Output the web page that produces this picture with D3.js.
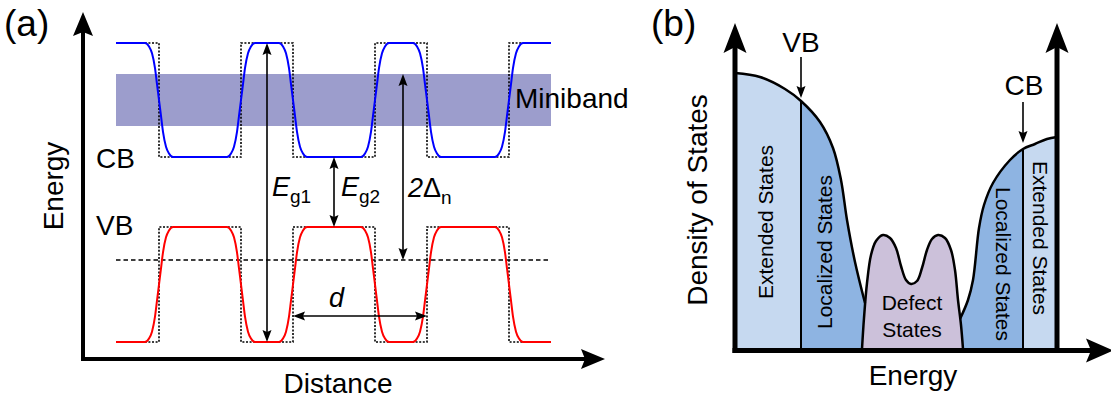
<!DOCTYPE html>
<html>
<head>
<meta charset="utf-8">
<script src="https://cdn.jsdelivr.net/npm/d3@7"></script>
<style>
  body { margin: 0; background: #fff; }
  svg { display: block; font-family: "Liberation Sans", Arial, Helvetica, sans-serif; }
</style>
</head>
<body>
<svg id="fig" width="1111" height="401"></svg>
<script>
// ---------- data, panel (a): superlattice band edges (1 unit = 10 px)
const edgesA = [7.6, 15.8, 21.0, 29.2, 34.4, 42.6]; // square-well steps along distance
const startA = 3.3, endA = 46.8;
const cbBarrier = 31.6, cbWell = 20.2;
const vbBarrier = 1.7, vbWell = 13.2;
const miniband = [23.3, 28.5];
const fermiLevel = 9.9;
const dArrowY = 4.3;
// rounded step profile: [offset from step, fraction of step done]
const stepShape = [[-1.4, 0], [-1.0, 0.03], [-0.7, 0.09], [-0.4, 0.22], [-0.2, 0.36], [0, 0.5],
  [0.2, 0.64], [0.4, 0.78], [0.7, 0.91], [1.0, 0.97], [1.4, 1]];

// ---------- data, panel (b): density of states (1 unit = 10 px)
const vbCurve = [[0, 27.6], [2.5, 27.2], [5.0, 26.0], [6.6, 24.8], [8.5, 22.7], [9.8, 20.1],
  [10.6, 16.9], [11.2, 12.9], [12.0, 8.7], [13.0, 4.6]];
const cbCurve = [[22.5, 3.0], [23.3, 4.9], [23.8, 6.9], [24.4, 12.1], [24.9, 14.4], [25.8, 16.6],
  [27.5, 18.9], [28.8, 20.0], [30.0, 20.5], [31.2, 21.0], [32.2, 21.2]];
const defectCurve = [[12.7, 0], [12.9, 3.1], [13.2, 6.6], [13.6, 9.4], [14.1, 10.8], [14.8, 11.4],
  [15.5, 11.1], [16.1, 10.1], [16.6, 8.3], [17.1, 6.9], [17.6, 6.5], [18.2, 6.8], [18.7, 8.1],
  [19.2, 9.9], [19.7, 11.0], [20.3, 11.4], [21.0, 11.1], [21.6, 9.9], [22.0, 7.9], [22.3, 4.9],
  [22.6, 2.4], [22.8, 0]];
const vbEdge = 6.6, cbEdge = 28.8, rightAxisB = 32.2;

const svg = d3.select("#fig");
const defs = svg.append("defs");

// arrow helper: line with notched heads, given in pixels
function arrow(g, x1, y1, x2, y2, opt) {
  const o = Object.assign({ len: 12, half: 4.5, notch: 2, width: 1.6, start: true, end: true }, opt);
  const ang = Math.atan2(y2 - y1, x2 - x1);
  const cos = Math.cos(ang), sin = Math.sin(ang);
  const head = (tx, ty, dir) => {
    const bx = tx - dir * cos * o.len, by = ty - dir * sin * o.len;
    const nx = tx - dir * cos * (o.len - o.notch), ny = ty - dir * sin * (o.len - o.notch);
    return `M${tx},${ty}L${bx - sin * o.half},${by + cos * o.half}L${nx},${ny}L${bx + sin * o.half},${by - cos * o.half}Z`;
  };
  const s = o.start ? o.len - o.notch : 0, e = o.end ? o.len - o.notch : 0;
  g.append("line")
    .attr("x1", x1 + cos * s).attr("y1", y1 + sin * s)
    .attr("x2", x2 - cos * e).attr("y2", y2 - sin * e)
    .attr("stroke", "#000").attr("stroke-width", o.width);
  if (o.end) g.append("path").attr("d", head(x2, y2, 1)).attr("fill", "#000");
  if (o.start) g.append("path").attr("d", head(x1, y1, -1)).attr("fill", "#000");
}

// ================= panel (a)
const xA = d3.scaleLinear().domain([0, 52.2]).range([83, 605]);
const yA = d3.scaleLinear().domain([0, 34.7]).range([359, 12]);
const gA = svg.append("g");

const levels = (barrier, well) => d3.range(edgesA.length + 1).map((i) => (i % 2 === 0 ? barrier : well));
const cbLv = levels(cbBarrier, cbWell);
const vbLv = levels(vbBarrier, vbWell);

const squarePts = (lv) => [[startA, lv[0]], ...edgesA.map((e, i) => [e, lv[i + 1]]), [endA, lv[lv.length - 1]]];
const smoothPts = (lv) => {
  const pts = [[startA, lv[0]]];
  edgesA.forEach((e, i) => {
    stepShape.forEach(([dx, f]) => pts.push([e + dx, lv[i] + (lv[i + 1] - lv[i]) * f]));
  });
  pts.push([endA, lv[lv.length - 1]]);
  return pts;
};

// miniband
gA.append("rect")
  .attr("x", xA(startA)).attr("width", xA(endA) - xA(startA))
  .attr("y", yA(miniband[1])).attr("height", yA(miniband[0]) - yA(miniband[1]))
  .attr("fill", "#9c9dcc");

// abrupt (square) profile, dotted
const stepLine = d3.line().x((d) => xA(d[0])).y((d) => yA(d[1])).curve(d3.curveStepAfter);
[cbLv, vbLv].forEach((lv) => {
  gA.append("path").attr("d", stepLine(squarePts(lv)))
    .attr("fill", "none").attr("stroke", "#000")
    .attr("stroke-width", 1.6).attr("stroke-dasharray", "2,1.6");
});

// dashed reference level
gA.append("line")
  .attr("x1", xA(startA)).attr("x2", xA(endA))
  .attr("y1", yA(fermiLevel)).attr("y2", yA(fermiLevel))
  .attr("stroke", "#000").attr("stroke-width", 1.5).attr("stroke-dasharray", "4.5,3");

// graded profile, solid
const smoothLine = d3.line().x((d) => xA(d[0])).y((d) => yA(d[1])).curve(d3.curveMonotoneX);
gA.append("path").attr("d", smoothLine(smoothPts(cbLv)))
  .attr("fill", "none").attr("stroke", "#0000ff").attr("stroke-width", 2);
gA.append("path").attr("d", smoothLine(smoothPts(vbLv)))
  .attr("fill", "none").attr("stroke", "#ff0000").attr("stroke-width", 2);

// annotation arrows
const eg1X = (edgesA[1] + edgesA[2]) / 2;
const eg2X = (edgesA[2] + edgesA[3]) / 2;
const deltaX = 32.0;
arrow(gA, xA(eg1X), yA(cbBarrier), xA(eg1X), yA(vbBarrier));
arrow(gA, xA(eg2X), yA(cbWell), xA(eg2X), yA(vbWell));
arrow(gA, xA(deltaX), yA(miniband[1]), xA(deltaX), yA(fermiLevel));
arrow(gA, xA(edgesA[2]), yA(dArrowY), xA(edgesA[4]), yA(dArrowY));

// axes with arrow heads
gA.append("line").attr("x1", xA(0)).attr("x2", xA(0)).attr("y1", yA(0) + 2).attr("y2", yA.range()[1] + 20)
  .attr("stroke", "#000").attr("stroke-width", 4);
gA.append("line").attr("x1", xA(0) - 2).attr("x2", xA.range()[1] - 20).attr("y1", yA(0)).attr("y2", yA(0))
  .attr("stroke", "#000").attr("stroke-width", 4);
gA.append("path").attr("fill", "#000")
  .attr("d", `M${xA(0)},${yA.range()[1]}L${xA(0) - 10},${yA.range()[1] + 24}L${xA(0)},${yA.range()[1] + 20}L${xA(0) + 10},${yA.range()[1] + 24}Z`);
gA.append("path").attr("fill", "#000")
  .attr("d", `M${xA.range()[1]},${yA(0)}L${xA.range()[1] - 24},${yA(0) - 10}L${xA.range()[1] - 20},${yA(0)}L${xA.range()[1] - 24},${yA(0) + 10}Z`);

// text
const big = 28;
gA.append("text").attr("x", 4).attr("y", 36).attr("font-size", 37).text("(a)");
gA.append("text").attr("transform", "translate(63,186) rotate(-90)")
  .attr("text-anchor", "middle").attr("font-size", big).text("Energy");
gA.append("text").attr("x", 338).attr("y", 393).attr("text-anchor", "middle").attr("font-size", big).text("Distance");
gA.append("text").attr("x", 96).attr("y", 168).attr("font-size", big).text("CB");
gA.append("text").attr("x", 96).attr("y", 235).attr("font-size", big).text("VB");
gA.append("text").attr("x", 515).attr("y", 108).attr("font-size", big).text("Miniband");

const subLabel = (x, y, parts, sub) => {
  const t = gA.append("text").attr("x", x).attr("y", y).attr("font-size", 27);
  parts.forEach(([s, italic]) => t.append("tspan").attr("font-style", italic ? "italic" : "normal").text(s));
  t.append("tspan").attr("font-size", 19).attr("dy", 7).text(sub);
};
subLabel(xA(eg1X) + 5, 196, [["E", true]], "g1");
subLabel(xA(eg2X) + 7, 196, [["E", true]], "g2");
subLabel(xA(deltaX) + 5, 197, [["2", true], ["Δ", false]], "n");
gA.append("text").attr("x", 329).attr("y", 307).attr("font-size", 27).attr("font-style", "italic").text("d");

// ================= panel (b)
const xB = d3.scaleLinear().domain([0, 37.6]).range([735, 1111]);
const yB = d3.scaleLinear().domain([0, 32.5]).range([349, 24]);
const gB = svg.append("g");

const clip = (id, x0, x1) => defs.append("clipPath").attr("id", id)
  .append("rect").attr("x", x0).attr("width", x1 - x0).attr("y", 0).attr("height", 401);
clip("vbExt", 0, xB(vbEdge));
clip("vbLoc", xB(vbEdge), 1111);
clip("cbLoc", 0, xB(cbEdge));
clip("cbExt", xB(cbEdge), 1111);

const area = d3.area().x((d) => xB(d[0])).y0(yB(0)).y1((d) => yB(d[1])).curve(d3.curveCatmullRom);
const curve = d3.line().x((d) => xB(d[0])).y((d) => yB(d[1])).curve(d3.curveCatmullRom);

const extColor = "#c6d9f0", locColor = "#8eb4e2", defColor = "#ccc1da";
gB.append("path").attr("d", area(vbCurve)).attr("fill", extColor).attr("clip-path", "url(#vbExt)");
gB.append("path").attr("d", area(vbCurve)).attr("fill", locColor).attr("clip-path", "url(#vbLoc)");
gB.append("path").attr("d", area(cbCurve)).attr("fill", locColor).attr("clip-path", "url(#cbLoc)");
gB.append("path").attr("d", area(cbCurve)).attr("fill", extColor).attr("clip-path", "url(#cbExt)");
gB.append("path").attr("d", area(defectCurve)).attr("fill", defColor);

[vbCurve, cbCurve, defectCurve].forEach((c) => {
  gB.append("path").attr("d", curve(c)).attr("fill", "none")
    .attr("stroke", "#000").attr("stroke-width", 2.5).attr("stroke-linejoin", "round");
});

// mobility edges
const yOn = (c, x) => c.find((d) => d[0] === x)[1];
gB.append("line").attr("x1", xB(vbEdge)).attr("x2", xB(vbEdge))
  .attr("y1", yB(yOn(vbCurve, vbEdge))).attr("y2", yB(0)).attr("stroke", "#000").attr("stroke-width", 2);
gB.append("line").attr("x1", xB(cbEdge)).attr("x2", xB(cbEdge))
  .attr("y1", yB(yOn(cbCurve, cbEdge))).attr("y2", yB(0)).attr("stroke", "#000").attr("stroke-width", 2);

arrow(gB, xB(vbEdge), 57, xB(vbEdge), yB(yOn(vbCurve, vbEdge)) - 3, { start: false });
arrow(gB, xB(cbEdge), 102, xB(cbEdge), yB(yOn(cbCurve, cbEdge)) - 6, { start: false });

// axes
const baseY = 350.5;
[xB(0), xB(rightAxisB)].forEach((ax) => {
  gB.append("line").attr("x1", ax).attr("x2", ax).attr("y1", baseY + 2.5).attr("y2", 45)
    .attr("stroke", "#000").attr("stroke-width", 5);
  gB.append("path").attr("fill", "#000")
    .attr("d", `M${ax},23L${ax - 11.5},53L${ax},47L${ax + 11.5},53Z`);
});
gB.append("line").attr("x1", xB(0) - 2.5).attr("x2", 1092).attr("y1", baseY).attr("y2", baseY)
  .attr("stroke", "#000").attr("stroke-width", 5);
gB.append("path").attr("fill", "#000")
  .attr("d", `M1113,${baseY}L1086,${baseY - 12}L1091,${baseY}L1086,${baseY + 12}Z`);

// text
gB.append("text").attr("x", 651).attr("y", 36).attr("font-size", 37).text("(b)");
gB.append("text").attr("transform", "translate(707,200) rotate(-90)")
  .attr("text-anchor", "middle").attr("font-size", big).text("Density of States");
gB.append("text").attr("x", 913).attr("y", 385).attr("text-anchor", "middle").attr("font-size", big).text("Energy");
gB.append("text").attr("x", xB(vbEdge)).attr("y", 52).attr("text-anchor", "middle").attr("font-size", big).text("VB");
gB.append("text").attr("x", xB(cbEdge) + 1).attr("y", 95).attr("text-anchor", "middle").attr("font-size", big).text("CB");

const small = 21;
const vText = (x, y, rot, s) => gB.append("text")
  .attr("transform", `translate(${x},${y}) rotate(${rot})`)
  .attr("text-anchor", "middle").attr("dominant-baseline", "central")
  .attr("font-size", small).text(s);
vText(765, 222, -90, "Extended States");
vText(824, 252, -90, "Localized States");
vText(1003, 264, 90, "Localized States");
vText(1040, 238, 90, "Extended States");
gB.append("text").attr("x", 912).attr("y", 310).attr("text-anchor", "middle").attr("font-size", small).text("Defect");
gB.append("text").attr("x", 912).attr("y", 337).attr("text-anchor", "middle").attr("font-size", small).text("States");
</script>
</body>
</html>
